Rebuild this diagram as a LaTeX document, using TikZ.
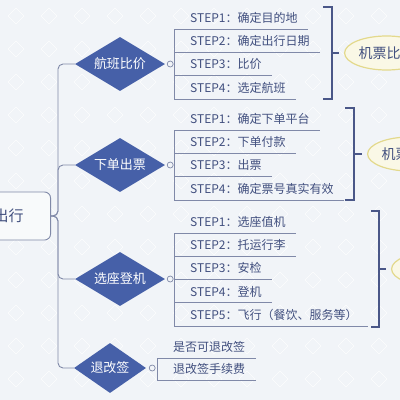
\documentclass[tikz,border=0pt]{standalone}
\usepackage{fontspec}
\setmainfont{Noto Sans CJK SC}
\usetikzlibrary{shapes.geometric}

\definecolor{bgc}{HTML}{F1F4F8}
\definecolor{linec}{HTML}{8089A8}
\definecolor{bluec}{HTML}{4660A8}
\definecolor{textc}{HTML}{42507F}
\definecolor{bracec}{HTML}{4A5788}
\definecolor{ellfill}{HTML}{FAF8E6}
\definecolor{elldraw}{HTML}{E3D98C}

\tikzset{
  conn/.style={draw=linec, line width=0.9pt},
  sumline/.style={draw=bracec, line width=1.4pt},
  rootbox/.style={rectangle, rounded corners=6pt, draw=linec, fill=white!50!bgc,
    line width=0.9pt, minimum height=48pt, text width=30pt, align=right,
    inner xsep=27pt, text=textc, font=\fontsize{15}{17}\selectfont},
  diam/.style={diamond, fill=bluec, text=white, inner sep=0pt, aspect=1.67,
    minimum width=90pt, minimum height=54pt, font=\fontsize{13}{15}\selectfont},
  knob/.style={circle, draw=linec, fill=bgc, line width=0.7pt, inner sep=0pt,
    minimum size=6pt},
  stepitem/.style={anchor=south west, inner xsep=0pt, inner ysep=4pt, text=textc,
    text height=9pt, text depth=2.5pt, font=\fontsize{12}{14}\selectfont},
  summ/.style={ellipse, draw=elldraw, fill=ellfill, line width=1.2pt, inner sep=0pt,
    minimum width=84pt, minimum height=34pt, text=textc, anchor=west,
    font=\fontsize{14}{16}\selectfont},
}

\begin{document}
\begin{tikzpicture}[x=1pt,y=-1pt]
\useasboundingbox (0,0) rectangle (400,400);

% -------------------------------------------------
% Fond
% -------------------------------------------------
\fill[bgc] (0,0) rectangle (400,400);
\foreach \i in {0,...,12}
  \foreach \j in {0,...,12}
    \draw[white, line width=0.5pt, opacity=0.8]
      (\i*33+16,\j*33+8) -- ++(8,8) -- ++(-8,8) -- ++(-8,-8) -- cycle;

% -------------------------------------------------
% Racine et losanges
% -------------------------------------------------
\node[rootbox, anchor=east] (root) at (51,216) {出行};

\node[diam] (d1) at (120,64) {航班比价};
\node[diam] (d2) at (120,165) {下单出票};
\node[diam] (d3) at (120,279) {选座登机};
\node[diam, minimum width=72pt, minimum height=50pt] (d4) at (110,368) {退改签};

\foreach \d in {d1,d2,d3,d4}
  \draw[conn, rounded corners=5pt] (root.east) -- ++(7,0) |- (\d.west);

\node[knob] (k1) at ([xshift=5pt]d1.east) {};
\node[knob] (k2) at ([xshift=5pt]d2.east) {};
\node[knob] (k3) at ([xshift=5pt]d3.east) {};
\node[knob] (k4) at ([xshift=6pt]d4.east) {};

% -------------------------------------------------
% Etapes
% -------------------------------------------------
\foreach \t [count=\i] in {STEP1：确定目的地, STEP2：确定出行日期, STEP3：比价, STEP4：选定航班}
  \node[stepitem] (a\i) at (190,{29+23.33*(\i-1)}) {\t};
\foreach \t [count=\i] in {STEP1：确定下单平台, STEP2：下单付款, STEP3：出票, STEP4：确定票号真实有效}
  \node[stepitem] (b\i) at (190,{130+23.33*(\i-1)}) {\t};
\foreach \t [count=\i] in {STEP1：选座值机, STEP2：托运行李, STEP3：安检, STEP4：登机, STEP5：飞行（餐饮、服务等）}
  \node[stepitem] (c\i) at (190,{233+23.25*(\i-1)}) {\t};
\node[stepitem] (r1) at (173,358) {是否可退改签};
\node[stepitem] (r2) at (173,380) {退改签手续费};

% soulignements
\foreach \n in {a1,a2,a3,a4,b1,b2,b3,b4,c1,c2,c3,c4,c5}
  \draw[conn] ([xshift=-16pt]\n.south west) -- ([xshift=10pt]\n.south east);
\draw[conn] ([xshift=-16pt]r1.south west) -- ([xshift=11pt]r1.south east);
\draw[conn] ([xshift=-16pt]r2.south west) -- ([xshift=11pt]r2.south east);

% barres verticales
\draw[conn] ([xshift=-16pt]a1.south west) -- ([xshift=-16pt]a4.south west);
\draw[conn] ([xshift=-16pt]b1.south west) -- ([xshift=-16pt]b4.south west);
\draw[conn] ([xshift=-16pt]c1.south west) -- ([xshift=-16pt]c5.south west);
\draw[conn] ([xshift=-16pt]r1.south west) -- ([xshift=-16pt]r2.south west);

\draw[conn] (k1.east) -- ([xshift=-16pt]a1.west |- k1);
\draw[conn] (k2.east) -- ([xshift=-16pt]b1.west |- k2);
\draw[conn] (k3.east) -- ([xshift=-16pt]c1.west |- k3);

% -------------------------------------------------
% Resumes
% -------------------------------------------------
\node[summ] (e1) at (344,53) {机票比价};
\node[summ] (e2) at (367,154) {机票\phantom{比价}};
\node[summ] (e3) at (391,269) {};

\draw[sumline] (323,7) -| (332,99) -- (323,99);
\draw[sumline] (345,108) -| (354,200) -- (345,200);
\draw[sumline] (371,211) -| (379,327) -- (371,327);

\coordinate (m1) at (332,53);
\coordinate (m2) at (354,154);
\coordinate (m3) at (379,269);
\draw[sumline] (m1) -- ([xshift=-5pt]e1.west);
\draw[sumline] (m2) -- ([xshift=-5pt]e2.west);
\draw[sumline] (m3) -- ([xshift=-5pt]e3.west);

\end{tikzpicture}
\end{document}
